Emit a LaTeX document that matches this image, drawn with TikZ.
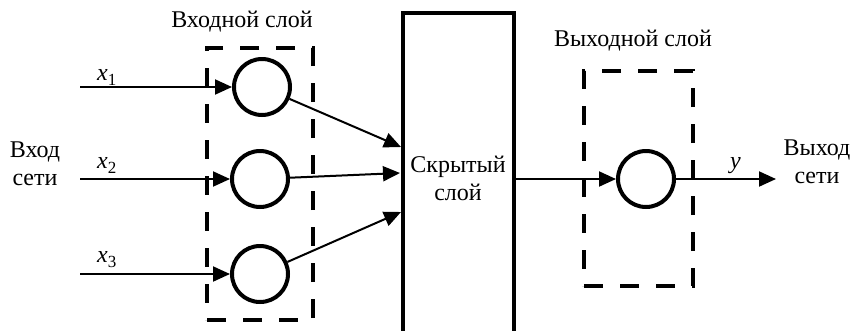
\documentclass[tikz,border=0pt]{standalone}
\usepackage{fontspec}
\setmainfont{Liberation Serif}
\usetikzlibrary{arrows.meta}
\tikzset{
  neuron/.style={circle, draw, line width=4pt, minimum size=56pt, inner sep=0pt},
  dashbox/.style={draw, line width=4.5pt, dash pattern=on 19pt off 17pt, inner sep=0pt},
  hidbox/.style={draw, line width=4pt, inner sep=0pt, align=center},
  arr/.style={line width=2pt, -{Triangle[length=17pt,width=15pt]}},
  lbl/.style={font=\fontsize{24}{28}\selectfont, align=center, inner sep=0pt},
  var/.style={font=\fontsize{24}{28}\selectfont\itshape, inner sep=0pt, anchor=base west}
}
\newcommand{\sub}[1]{\raisebox{-5pt}{\fontsize{17}{17}\selectfont\upshape #1}}
\begin{document}
\begin{tikzpicture}[x=1pt,y=-1pt]
\useasboundingbox (0,0) rectangle (853,330);
% dashed layer boxes
\node[dashbox, minimum width=106pt, minimum height=272pt] (inbox) at (260,184) {};
\node[dashbox, minimum width=109pt, minimum height=215pt] (outbox) at (638.5,178.5) {};
% hidden layer
\node[hidbox, minimum width=111pt, minimum height=330pt, lbl] (hid) at (458,178) {Скрытый\\слой};
% neurons
\node[neuron] (c1) at (262,87) {};
\node[neuron] (c2) at (260,179) {};
\node[neuron] (c3) at (260,274) {};
\node[neuron] (co) at (646,179) {};
% free ends
\coordinate (i1) at (80,87);
\coordinate (i2) at (80,179);
\coordinate (i3) at (80,274);
\coordinate (h1) at (401,147);
\coordinate (h2) at (400,173);
\coordinate (h3) at (401,212);
\coordinate (o1) at (776,179);
% connectors
\draw[arr] (i1) -- (c1);
\draw[arr] (i2) -- (c2);
\draw[arr] (i3) -- (c3);
\draw[arr] (c1) -- (h1);
\draw[arr] (c2) -- (h2);
\draw[arr] (c3) -- (h3);
\draw[arr] (co -| hid.east) -- (co);
\draw[arr] (co) -- (o1);
% labels
\node[lbl] (tin) at (242,22) {Входной слой};
\node[lbl] (tout) at (633,41) {Выходной слой};
\node[lbl] (netin) at (35,164) {Вход\\сети};
\node[lbl] (netout) at (817,162) {Выход\\сети};
\node[var] (x1) at (97,80) {x\sub{1}};
\node[var] (x2) at (97,168) {x\sub{2}};
\node[var] (x3) at (97,262) {x\sub{3}};
\node[var] (y) at (730,168) {y};
\end{tikzpicture}
\end{document}
